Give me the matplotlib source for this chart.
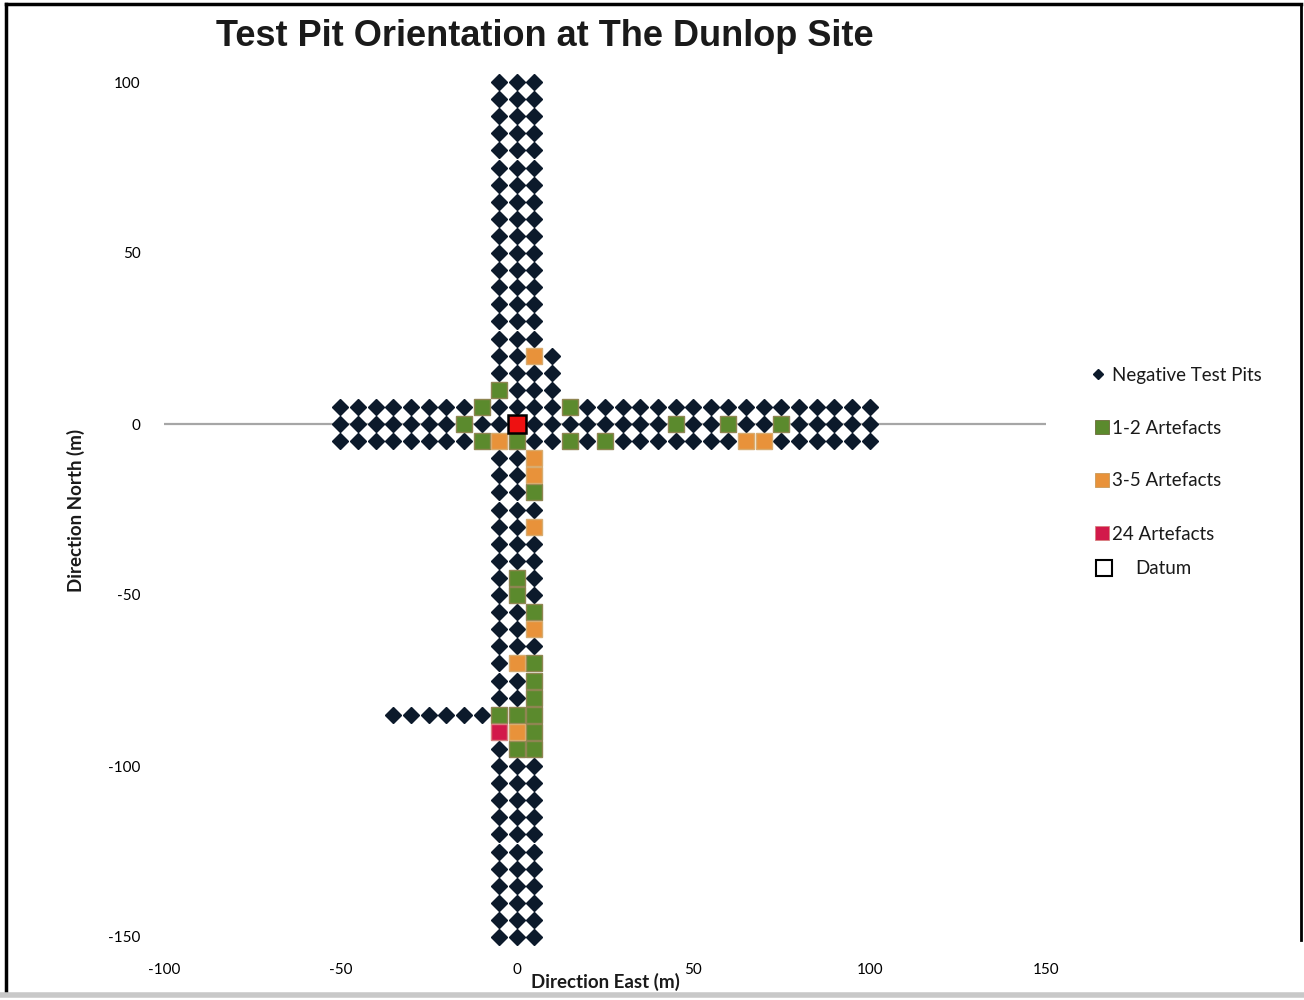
import numpy as np
import matplotlib
matplotlib.use("Agg")
import matplotlib.pyplot as plt
from matplotlib.lines import Line2D

# ---------------- data ----------------
title = "Test Pit Orientation at The Dunlop Site"
x_ticks = [-100, -50, 0, 50, 100, 150]
y_ticks = [-150, -100, -50, 0, 50, 100]
spacing = 5  # survey interval (m)

# transects of the test-pit grid
ns_x = [-5, 0, 5]            # north-south transect columns
ns_y_range = (100, -150)     # north-south extent
ew_y = [5, 0, -5]            # east-west transect rows
ew_x_range = (-50, 100)      # east-west extent
extra_x = [10]               # short extra column north of datum
extra_y = [20, 15, 10]
sw_y = [-85]                 # south-west spur
sw_x_range = (-35, -10)

green_pits = [(-5, 10), (-10, 5), (15, 5), (-15, 0), (45, 0), (60, 0), (75, 0),
              (-10, -5), (0, -5), (15, -5), (25, -5), (5, -20), (0, -45), (0, -50),
              (5, -55), (5, -70), (5, -75), (5, -80), (-5, -85), (0, -85), (5, -85),
              (5, -90), (0, -95), (5, -95)]
orange_pits = [(5, 20), (-5, -5), (65, -5), (70, -5), (5, -10), (5, -15), (5, -30),
               (5, -60), (0, -70), (0, -90)]
red_pits = [(-5, -90)]
datum = [(0, 0)]

# ---------------- build grid ----------------
grid = set()
for x in ns_x:
    for y in range(ns_y_range[0], ns_y_range[1] - 1, -spacing):
        grid.add((x, y))
for y in ew_y:
    for x in range(ew_x_range[0], ew_x_range[1] + 1, spacing):
        grid.add((x, y))
for x in extra_x:
    for y in extra_y:
        grid.add((x, y))
for y in sw_y:
    for x in range(sw_x_range[0], sw_x_range[1] + 1, spacing):
        grid.add((x, y))
positives = set(green_pits) | set(orange_pits) | set(red_pits) | set(datum)
negatives = sorted(grid - positives)

# ---------------- figure ----------------
W, H = 1304, 1000
fig = plt.figure(figsize=(W / 100, H / 100), dpi=100)
fig.patch.set_facecolor("white")

def fx(px):
    return px / W

def fy(py):
    return 1 - py / H

ax = fig.add_axes([fx(164), fy(937), fx(1046) - fx(164), fy(82) - fy(937)])
ax.set_xlim(-100, 150)
ax.set_ylim(-150, 100)
for s in ax.spines.values():
    s.set_visible(False)
ax.set_facecolor("none")

ax.axhline(0, color="#a6a6a6", lw=1.6, zorder=1)

DIAMOND = "#0c1a2b"
GREEN = "#5b8a2d"
ORANGE = "#e8923a"
CRIMSON = "#d2194a"
RED = "#ee1111"

nx, ny = zip(*negatives)
ax.plot(nx, ny, ls="none", marker="D", ms=7.8, color=DIAMOND, mec=DIAMOND,
        clip_on=False, zorder=3)

def sq(pts, color, ec, ms=12.2, z=4, mew=1.0):
    xs, ys = zip(*pts)
    ax.plot(xs, ys, ls="none", marker="s", ms=ms, mfc=color, mec=ec, mew=mew,
            clip_on=False, zorder=z)

sq(green_pits, GREEN, "#8f8552")
sq(orange_pits, ORANGE, "#d8ac70")
sq(red_pits, CRIMSON, "#d88080")
dx, dy = zip(*datum)
ax.plot(dx, dy, ls="none", marker="s", ms=13.5, mfc=RED, mec="black", mew=1.8,
        clip_on=False, zorder=5)

ax.set_xticks(x_ticks)
ax.set_yticks(y_ticks)
ax.set_xticklabels([str(v) for v in x_ticks], fontfamily="Lato", fontsize=11)
ax.set_yticklabels([str(v) for v in y_ticks], fontfamily="Lato", fontsize=11)
ax.tick_params(axis="x", length=0, pad=19)
ax.tick_params(axis="y", length=0, pad=17)

fig.text(fx(545), fy(36), title, ha="center", va="center",
         fontfamily="Liberation Sans", fontsize=26, fontweight="bold", color="#1a1a1a")
fig.text(fx(605), fy(982), "Direction East (m)", ha="center", va="center",
         fontfamily="Lato", fontsize=13.5, fontweight="bold", color="#1a1a1a")
fig.text(fx(76), fy(510), "Direction North (m)", ha="center", va="center",
         rotation=90, fontfamily="Lato", fontsize=13.5, fontweight="bold", color="#1a1a1a")

# legend (manual)
def leg_marker(px, py, **kw):
    fig.add_artist(Line2D([fx(px)], [fy(py)], ls="none", transform=fig.transFigure, **kw))

leg_marker(1098, 374, marker="D", ms=5.5, color=DIAMOND)
leg_marker(1102, 427, marker="s", ms=10, mfc=GREEN, mec="#6b6b3a", mew=0.6)
leg_marker(1102, 480, marker="s", ms=10, mfc=ORANGE, mec="#c89a5a", mew=0.6)
leg_marker(1102, 533, marker="s", ms=10, mfc=CRIMSON, mec="#d88080", mew=0.6)
leg_marker(1104, 568, marker="s", ms=11.5, mfc="white", mec="black", mew=1.5)
legend_labels = ["Negative Test Pits", "1-2 Artefacts", "3-5 Artefacts", "24 Artefacts"]
legend_y = [376, 429, 481, 534]
for lab, py in zip(legend_labels, legend_y):
    fig.text(fx(1112), fy(py), lab, ha="left", va="center", fontfamily="Lato",
             fontsize=13.5, color="#1a1a1a")
fig.text(fx(1135), fy(569), "Datum", ha="left", va="center", fontfamily="Lato",
         fontsize=13.5, color="#1a1a1a")

# frame around the picture
fig.add_artist(Line2D([fx(6), fx(6)], [fy(4), fy(993)], transform=fig.transFigure,
                      color="black", lw=2.5))
fig.add_artist(Line2D([fx(6), fx(1301)], [fy(4), fy(4)], transform=fig.transFigure,
                      color="black", lw=2.5))
fig.add_artist(Line2D([fx(1301), fx(1301)], [fy(4), fy(940)], transform=fig.transFigure,
                      color="black", lw=2.0))
fig.add_artist(Line2D([0, 1], [fy(995), fy(995)], transform=fig.transFigure,
                      color="#c8c8c8", lw=4))

fig.savefig("out.png", dpi=100, facecolor="white")
